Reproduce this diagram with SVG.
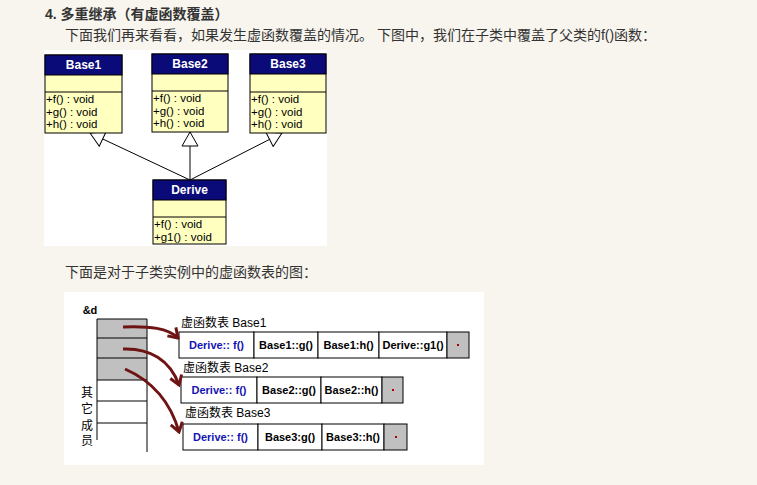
<svg xmlns="http://www.w3.org/2000/svg" width="757" height="485" viewBox="0 0 757 485">
<style>
.t{font-family:"Liberation Sans","Noto Sans CJK SC",sans-serif;fill:#333;font-size:14px}
.hd{font-weight:bold}
.box{fill:#ffffc0;stroke:#000;stroke-width:1}
.bar{fill:#0a0a78;stroke:#000;stroke-width:1}
.ttl{font-family:"Liberation Sans",sans-serif;font-size:12px;font-weight:bold;fill:#fff;text-anchor:middle}
.m{font-family:"Liberation Sans",sans-serif;font-size:11.5px;fill:#000}
.cell{fill:#fff;stroke:#000;stroke-width:1}
.gcell{fill:#c0c0c0;stroke:#000;stroke-width:1}
.ct{font-family:"Liberation Sans",sans-serif;font-size:11px;font-weight:bold;fill:#000;text-anchor:middle}
.blue{fill:#1414b4}
.lbl{font-family:"Liberation Sans","Noto Sans CJK SC",sans-serif;font-size:12px;fill:#000}
.gen{stroke:#000;stroke-width:1;fill:none;marker-end:url(#tri)}
.red{stroke:#6e1414;stroke-width:3;fill:none;marker-end:url(#rh)}
</style>
<defs>
<marker id="tri" markerUnits="userSpaceOnUse" viewBox="-1 -1 16 18" markerWidth="16" markerHeight="18" refX="14" refY="8" orient="auto">
<path d="M0,0 L14,8 L0,16 Z" fill="#fff" stroke="#000" stroke-width="1"/>
</marker>
<marker id="rh" markerUnits="userSpaceOnUse" viewBox="-12 -8 14 16" markerWidth="14" markerHeight="16" refX="0" refY="0" orient="auto">
<path d="M-9,-6 L0,0 L-9,6" fill="none" stroke="#6e1414" stroke-width="3"/>
</marker>
</defs>
<rect width="757" height="485" fill="#f8f5ee"/>
<text class="t hd" x="45" y="19">4. 多重继承（有虚函数覆盖）</text>
<text class="t" x="65" y="40">下面我们再来看看，如果发生虚函数覆盖的情况。 下图中，我们在子类中覆盖了父类的f()函数：</text>
<text class="t" x="65" y="277">下面是对于子类实例中的虚函数表的图：</text>

<rect x="44" y="50" width="283" height="196" fill="#fff"/>
<g id="connectors">
<line class="gen" x1="190" y1="180" x2="90" y2="133"/>
<line class="gen" x1="190" y1="180" x2="190" y2="132"/>
<line class="gen" x1="190" y1="180" x2="282" y2="133"/>
</g>
<g id="base1">
<rect class="box" x="45" y="55" width="77" height="78"/>
<rect class="bar" x="45" y="55" width="77" height="20"/>
<line x1="45" y1="92" x2="122" y2="92" stroke="#000"/>
<text class="ttl" x="83.5" y="69">Base1</text>
<text class="m" x="46" y="103">+f() : void</text>
<text class="m" x="46" y="116">+g() : void</text>
<text class="m" x="46" y="128">+h() : void</text>
</g>
<g id="base2">
<rect class="box" x="152" y="54" width="76" height="78"/>
<rect class="bar" x="152" y="54" width="76" height="20"/>
<line x1="152" y1="91" x2="228" y2="91" stroke="#000"/>
<text class="ttl" x="190" y="68">Base2</text>
<text class="m" x="153" y="102">+f() : void</text>
<text class="m" x="153" y="115">+g() : void</text>
<text class="m" x="153" y="127">+h() : void</text>
</g>
<g id="base3">
<rect class="box" x="250" y="54" width="76" height="79"/>
<rect class="bar" x="250" y="54" width="76" height="20"/>
<line x1="250" y1="92" x2="326" y2="92" stroke="#000"/>
<text class="ttl" x="288" y="68">Base3</text>
<text class="m" x="251" y="103">+f() : void</text>
<text class="m" x="251" y="116">+g() : void</text>
<text class="m" x="251" y="128">+h() : void</text>
</g>
<g id="derive">
<rect class="box" x="153" y="180" width="73" height="64"/>
<rect class="bar" x="153" y="180" width="73" height="20"/>
<line x1="153" y1="217" x2="226" y2="217" stroke="#000"/>
<text class="ttl" x="189.5" y="194">Derive</text>
<text class="m" x="154" y="228">+f() : void</text>
<text class="m" x="154" y="241">+g1() : void</text>
</g>

<rect x="64" y="292" width="420" height="173" fill="#fff"/>
<g id="object">
<text class="ct" x="90" y="314">&amp;d</text>
<rect x="97" y="319" width="50" height="61" fill="#c0c0c0"/>
<line x1="97" y1="319" x2="97" y2="440" stroke="#000"/>
<line x1="147" y1="319" x2="147" y2="452" stroke="#000"/>
<line x1="97" y1="319" x2="147" y2="319" stroke="#000"/>
<line x1="97" y1="338" x2="147" y2="338" stroke="#000"/>
<line x1="97" y1="358" x2="147" y2="358" stroke="#000"/>
<line x1="97" y1="380" x2="147" y2="380" stroke="#000"/>
<line x1="97" y1="401" x2="147" y2="401" stroke="#000"/>
<line x1="97" y1="423" x2="147" y2="423" stroke="#000"/>
<text class="lbl" x="87" y="397" text-anchor="middle" font-size="13">其</text>
<text class="lbl" x="87" y="413" text-anchor="middle" font-size="13">它</text>
<text class="lbl" x="87" y="430" text-anchor="middle" font-size="13">成</text>
<text class="lbl" x="87" y="445" text-anchor="middle" font-size="13">员</text>
</g>
<g id="vtable1">
<text class="lbl" x="181" y="327">虚函数表 Base1</text>
<rect class="cell" x="179" y="332" width="75" height="26"/>
<rect class="cell" x="254" y="332" width="64" height="26"/>
<rect class="cell" x="318" y="332" width="61" height="26"/>
<rect class="cell" x="379" y="332" width="68" height="26"/>
<rect class="gcell" x="447" y="332" width="22" height="26"/>
<text class="ct blue" x="216.5" y="349">Derive:: f()</text>
<text class="ct" x="286" y="349">Base1::g()</text>
<text class="ct" x="348.5" y="349">Base1:h()</text>
<text class="ct" x="413" y="349">Derive::g1()</text>
<rect x="457" y="344" width="2" height="2" fill="#a00"/>
</g>
<g id="vtable2">
<text class="lbl" x="183" y="372">虚函数表 Base2</text>
<rect class="cell" x="181" y="377" width="76" height="26"/>
<rect class="cell" x="257" y="377" width="64" height="26"/>
<rect class="cell" x="321" y="377" width="61" height="26"/>
<rect class="gcell" x="382" y="377" width="21" height="26"/>
<text class="ct blue" x="219" y="394">Derive:: f()</text>
<text class="ct" x="289" y="394">Base2::g()</text>
<text class="ct" x="351.5" y="394">Base2::h()</text>
<rect x="392" y="389" width="2" height="2" fill="#a00"/>
</g>
<g id="vtable3">
<text class="lbl" x="185" y="417">虚函数表 Base3</text>
<rect class="cell" x="183" y="424" width="75" height="26"/>
<rect class="cell" x="258" y="424" width="64" height="26"/>
<rect class="cell" x="322" y="424" width="62" height="26"/>
<rect class="gcell" x="384" y="424" width="23" height="26"/>
<text class="ct blue" x="220.5" y="441">Derive:: f()</text>
<text class="ct" x="290" y="441">Base3:g()</text>
<text class="ct" x="353" y="441">Base3::h()</text>
<rect x="395" y="436" width="2" height="2" fill="#a00"/>
</g>
<g id="pointers">
<path class="red" d="M123,327 C150,326 168,328 178,338"/>
<path class="red" d="M123,349 C150,348 170,360 179,385"/>
<path class="red" d="M125,369 C150,380 170,400 179,432"/>
</g>
</svg>
